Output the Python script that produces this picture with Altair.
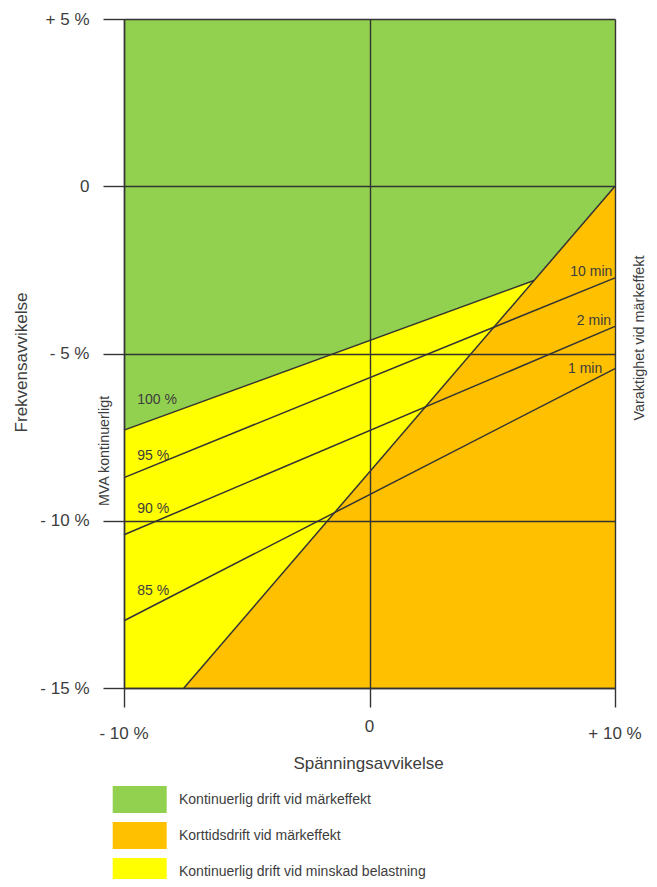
import altair as alt
import pandas as pd

FONT = "Liberation Sans"
LINE = "#333333"
TXT = "#3d3d3d"

# ---- data ----
zones = ["Kontinuerlig drift vid märkeffekt",
         "Korttidsdrift vid märkeffekt",
         "Kontinuerlig drift vid minskad belastning"]
zone_colors = ["#92D050", "#FFC000", "#FFFF00"]

x_ticks = [-10, 0, 10]
x_tick_labels = ["- 10 %", "0", "+ 10 %"]
y_ticks = [5, 0, -5, -10, -15]
y_tick_labels = ["+ 5 %", "0", "- 5 %", "- 10 %", "- 15 %"]

# yellow background (whole field)
yellow_x = [-10]
yellow_x2 = [10]
yellow_y = [-15]
yellow_y2 = [5]

# green zone: from lower boundary up to +5 %
green_x = [-10, 6.7, 10]
green_low = [-7.29, -2.82, 0.0]
green_high = [5, 5, 5]

# orange zone: from -15 % up to the diagonal boundary
orange_x = [-7.56, 10]
orange_low = [-15, -15]
orange_high = [-15, 0]

# line segments (x1, y1, x2, y2)
seg_x1 = [-10, -10, -10, -10, -7.56]
seg_y1 = [-7.29, -8.71, -10.42, -12.99, -15]
seg_x2 = [6.7, 10, 10, 10, 10]
seg_y2 = [-2.82, -2.74, -4.19, -5.45, 0]

# labels on the left (MVA continuous)
pct_labels = ["100 %", "95 %", "90 %", "85 %"]
pct_x = [-9.46, -9.46, -9.46, -9.46]
pct_y = [-6.51, -8.17, -9.78, -12.22]

# labels on the right (duration)
min_labels = ["10 min", "2 min", "1 min"]
min_x = [9.89, 9.84, 9.48]
min_y = [-2.69, -4.14, -5.59]

# ---- build tables ----
df_yellow = pd.DataFrame({"x": yellow_x, "x2": yellow_x2, "y": yellow_y,
                          "y2": yellow_y2, "zone": [zones[2]]})
df_green = pd.DataFrame({"x": green_x, "y": green_low, "y2": green_high,
                         "zone": [zones[0]] * len(green_x)})
df_orange = pd.DataFrame({"x": orange_x, "y": orange_low, "y2": orange_high,
                          "zone": [zones[1]] * len(orange_x)})
df_seg = pd.DataFrame({"x": seg_x1, "y": seg_y1, "x2": seg_x2, "y2": seg_y2})
df_pct = pd.DataFrame({"x": pct_x, "y": pct_y, "t": pct_labels})
df_min = pd.DataFrame({"x": min_x, "y": min_y, "t": min_labels})
df_xl_out = pd.DataFrame({"x": [x_ticks[0], x_ticks[2]], "y": [y_ticks[-1]] * 2,
                          "t": [x_tick_labels[0], x_tick_labels[2]]})
df_xl_mid = pd.DataFrame({"x": [x_ticks[1]], "y": [y_ticks[-1]], "t": [x_tick_labels[1]]})

label_expr = ""
for v, l in zip(y_ticks, y_tick_labels):
    label_expr += f"datum.value == {v} ? '{l}' : "
label_expr += "''"

xs = alt.Scale(domain=[-10, 10], nice=False, zero=False)
ys = alt.Scale(domain=[-15, 5], nice=False, zero=False)

xaxis = alt.Axis(values=x_ticks, labels=False, grid=True, gridColor=LINE,
                 gridWidth=1.4, gridOpacity=1, tickColor=LINE, tickWidth=1.4,
                 tickSize=19, domainColor=LINE, domainWidth=1.4,
                 title="Spänningsavvikelse", titleFont=FONT, titleFontSize=17,
                 titleFontWeight="normal", titleColor=TXT, titleX=244, titleY=80,
                 titleBaseline="alphabetic", titleAlign="center", zindex=1)
yaxis = alt.Axis(values=y_ticks, labelExpr=label_expr, labelFont=FONT,
                 labelFontSize=17, labelColor=TXT, labelPadding=14,
                 labelBaseline="middle", grid=True, gridColor=LINE, gridWidth=1.4,
                 gridOpacity=1, tickColor=LINE, tickWidth=1.4, tickSize=21,
                 domainColor=LINE, domainWidth=1.4,
                 title="Frekvensavvikelse", titleFont=FONT, titleFontSize=17,
                 titleFontWeight="normal", titleColor=TXT, titleAngle=270,
                 titleX=-103, titleY=343, titleAlign="center",
                 titleBaseline="middle", zindex=1)

X = alt.X("x:Q", scale=xs, axis=xaxis)
Y = alt.Y("y:Q", scale=ys, axis=yaxis)

color = alt.Color("zone:N", scale=alt.Scale(domain=zones, range=zone_colors),
                  legend=alt.Legend(title=None, orient="none", legendX=2.2,
                                    legendY=767, direction="vertical",
                                    symbolType="M-2,-1H2V1H-2Z",
                                    symbolSize=729, symbolStrokeWidth=0,
                                    symbolOpacity=1, labelFont=FONT,
                                    labelFontSize=14, labelColor=TXT,
                                    labelOffset=25.8, labelLimit=0,
                                    rowPadding=9, padding=0))

yellow = alt.Chart(df_yellow).mark_rect(opacity=1).encode(
    x=X, x2="x2:Q", y=Y, y2="y2:Q", color=color)
green = alt.Chart(df_green).mark_area(opacity=1).encode(
    x=X, y=Y, y2="y2:Q", color=color)
orange = alt.Chart(df_orange).mark_area(opacity=1).encode(
    x=X, y=Y, y2="y2:Q", color=color)
segs = alt.Chart(df_seg).mark_rule(color=LINE, strokeWidth=1.5).encode(
    x=X, y=Y, x2="x2:Q", y2="y2:Q")
pct = alt.Chart(df_pct).mark_text(align="left", baseline="alphabetic",
                                  font=FONT, fontSize=14, color=TXT).encode(
    x=X, y=Y, text="t:N")
mins = alt.Chart(df_min).mark_text(align="right", baseline="alphabetic",
                                   font=FONT, fontSize=14, color=TXT).encode(
    x=X, y=Y, text="t:N")
xl_out = alt.Chart(df_xl_out).mark_text(align="center", baseline="alphabetic",
                                        dy=51, font=FONT, fontSize=17, color=TXT).encode(
    x=X, y=Y, text="t:N")
xl_mid = alt.Chart(df_xl_mid).mark_text(align="center", baseline="alphabetic",
                                        dy=44, font=FONT, fontSize=17, color=TXT).encode(
    x=X, y=Y, text="t:N")
side = pd.DataFrame({"t": ["MVA kontinuerligt"]})
side2 = pd.DataFrame({"t": ["Varaktighet vid märkeffekt"]})
mva = alt.Chart(side).mark_text(angle=270, align="center", baseline="middle",
                                font=FONT, fontSize=14.3, color=TXT).encode(
    x=alt.value(-19), y=alt.value(432), text="t:N")
var = alt.Chart(side2).mark_text(angle=270, align="center", baseline="middle",
                                 font=FONT, fontSize=14.4, color=TXT).encode(
    x=alt.value(516), y=alt.value(319), text="t:N")

chart = alt.layer(yellow, green, orange, segs, pct, mins, xl_out, xl_mid, mva, var).properties(
    width=491, height=669,
    padding={"left": 116, "top": 11, "right": 34, "bottom": 191},
    autosize=alt.AutoSizeParams(type="none"),
).configure_view(stroke=None)

chart.save("out.html", embed_options={"renderer": "svg", "actions": False})
